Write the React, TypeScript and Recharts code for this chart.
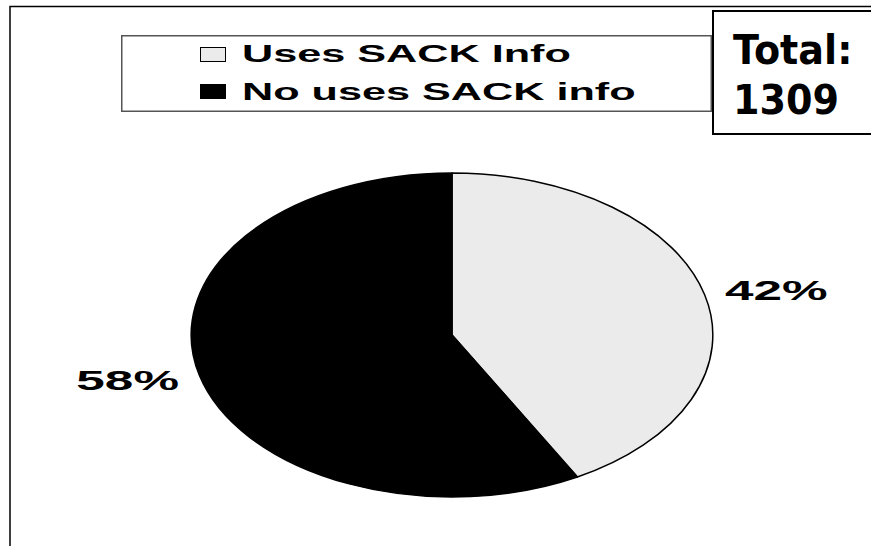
import React from 'react';
import { PieChart, Pie, Cell, Legend } from 'recharts';

// slice names and counts (42% / 58% of 1309)
const categories = ['Uses SACK Info', 'No uses SACK info'];
const counts = [550, 759];
const sliceColors = ['#ebebeb', '#000000'];
const totalLines = ['Total:', '1309'];

const data = categories.map((name, i) => ({ name, value: counts[i] }));

const STRETCH = 1.61; // pie is drawn as an ellipse, wider than tall
const RAD = Math.PI / 180;
const ARIAL = '"Liberation Sans", Arial, sans-serif';

// elliptical sector, angles come from the Pie layout
const EllipseSector = (props: any) => {
    const { cx, cy, outerRadius, startAngle, endAngle, fill } = props;
    const rx = outerRadius * STRETCH;
    const ry = outerRadius;
    const x1 = cx + rx * Math.cos(startAngle * RAD);
    const y1 = cy - ry * Math.sin(startAngle * RAD);
    const x2 = cx + rx * Math.cos(endAngle * RAD);
    const y2 = cy - ry * Math.sin(endAngle * RAD);
    const large = Math.abs(endAngle - startAngle) > 180 ? 1 : 0;
    const sweep = startAngle > endAngle ? 1 : 0;
    const d = `M${cx},${cy} L${x1},${y1} A${rx},${ry} 0 ${large} ${sweep} ${x2},${y2} Z`;
    return <path d={d} fill={fill} stroke="#000" strokeWidth={1.5} strokeLinejoin="round" />;
};

const renderLabel = (props: any) => {
    const { cx, cy, midAngle, outerRadius, percent } = props;
    const rx = outerRadius * STRETCH + 21;
    const ry = outerRadius + 20;
    const c = Math.cos(midAngle * RAD);
    const x = cx + rx * c;
    const y = cy - ry * Math.sin(midAngle * RAD) + 10;
    return (
        <text
            transform={`translate(${x},${y}) scale(1.9,1)`}
            x={0}
            y={0}
            textAnchor={c >= 0 ? 'start' : 'end'}
            fontFamily={ARIAL}
            fontWeight="bold"
            fontSize={27}
            fill="#000"
        >
            {`${Math.round(percent * 100)}%`}
        </text>
    );
};

const renderLegend = (props: any) => {
    // keep the slice order, not the alphabetical one
    const payload = [...(props.payload || [])].sort(
        (a: any, b: any) => categories.indexOf(a.value) - categories.indexOf(b.value)
    );
    return (
        <svg width={591} height={77} style={{ display: 'block' }}>
            <rect x={0.75} y={0.75} width={589.5} height={75.5} fill="#fff" stroke="#555" strokeWidth={1.5} />
            {payload.map((entry: any, i: number) => (
                <g key={entry.value}>
                    <rect
                        x={79.5}
                        y={12.5 + i * 37}
                        width={25}
                        height={14}
                        fill={sliceColors[categories.indexOf(entry.value)]}
                        stroke="#000"
                        strokeWidth={1}
                    />
                    <text
                        transform={`translate(121,${27 + i * 38}) scale(1.8,1)`}
                        fontFamily={ARIAL}
                        fontWeight="bold"
                        fontSize={24}
                        fill="#000"
                    >
                        {entry.value}
                    </text>
                </g>
            ))}
        </svg>
    );
};

const App: React.FC = () => {
    return (
        <div style={{ position: 'fixed', left: 0, top: 0, width: 871, height: 546, overflow: 'hidden', background: '#fff' }}>
            <PieChart width={871} height={546} margin={{ top: 0, right: 0, bottom: 0, left: 0 }}>
                <Legend
                    layout="vertical"
                    align="center"
                    verticalAlign="middle"
                    content={renderLegend}
                    wrapperStyle={{ left: 121, top: 35, width: 591, height: 77 }}
                />
                <Pie
                    data={data}
                    dataKey="value"
                    nameKey="name"
                    cx={452}
                    cy={335}
                    outerRadius={162}
                    startAngle={90}
                    endAngle={-270}
                    label={renderLabel}
                    labelLine={false}
                    shape={EllipseSector}
                    activeShape={EllipseSector}
                    inactiveShape={EllipseSector}
                    isAnimationActive={false}
                >
                    {data.map((d, i) => (
                        <Cell key={d.name} fill={sliceColors[i]} />
                    ))}
                </Pie>
            </PieChart>
            <svg width={871} height={546} style={{ position: 'absolute', left: 0, top: 0, pointerEvents: 'none' }}>
                <path d="M10,546 L10,6.5 L871,6.5" fill="none" stroke="#000" strokeWidth={1.5} />
                <rect x={713} y={11} width={200} height={123} fill="#fff" stroke="#000" strokeWidth={2} />
                {totalLines.map((t, i) => (
                    <text
                        key={t}
                        transform={`translate(733,${64 + i * 50}) scale(0.93,1)`}
                        fontFamily='"DejaVu Sans", Verdana, sans-serif'
                        fontWeight="bold"
                        fontSize={41}
                        fill="#000"
                    >
                        {t}
                    </text>
                ))}
            </svg>
        </div>
    );
};

export default App;
